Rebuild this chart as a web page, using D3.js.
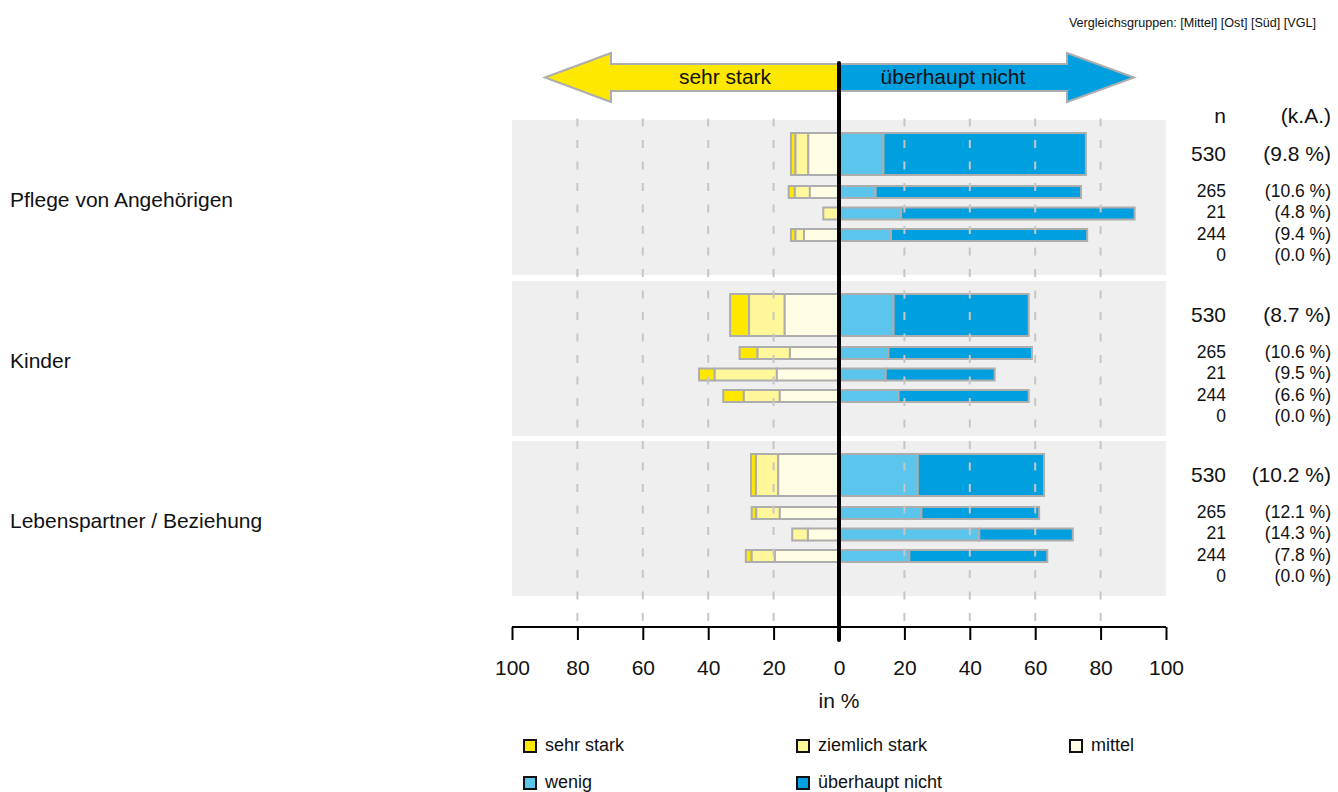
<!DOCTYPE html>
<html><head><meta charset="utf-8">
<script src="https://cdn.jsdelivr.net/npm/d3@7"></script>
<style>
body{margin:0;background:#fff;}
svg{display:block;font-family:"Liberation Sans",Arial,Helvetica,sans-serif;}
</style></head>
<body><svg id="c" width="1338" height="792"></svg>
<script>
const categories = ["Pflege von Angehörigen", "Kinder", "Lebenspartner / Beziehung"];
const groups = ["Gesamt", "Mittel", "Ost", "Süd", "VGL"];
const seriesNames = ["sehr stark", "ziemlich stark", "mittel", "wenig", "überhaupt nicht"];
const seriesColors = ["#FFE800", "#FFF799", "#FFFDE3", "#5BC5EC", "#009FE0"];
// values per category, per group (Gesamt, Mittel, Ost, Süd, VGL)
const sehrStark      = [[1.4, 1.9, 0, 1.4, 0], [5.8, 5.5, 4.8, 6.3, 0], [1.5, 1.4, 0, 1.8, 0]];
const ziemlichStark  = [[3.9, 4.6, 4.8, 2.6, 0], [10.9, 9.9, 19.0, 11.0, 0], [6.8, 7.2, 4.8, 7.1, 0]];
const mittel         = [[9.4, 8.9, 0, 10.7, 0], [16.6, 15.0, 19.0, 18.1, 0], [18.6, 18.1, 9.5, 19.6, 0]];
const wenig          = [[13.6, 11.2, 19.0, 15.9, 0], [16.7, 15.1, 14.3, 18.2, 0], [24.1, 25.2, 42.9, 21.5, 0]];
const ueberhauptNicht= [[61.9, 62.8, 71.4, 60.0, 0], [41.3, 43.9, 33.3, 39.8, 0], [38.6, 36.0, 28.6, 42.2, 0]];
const nValues  = [[530, 265, 21, 244, 0], [530, 265, 21, 244, 0], [530, 265, 21, 244, 0]];
const kaValues = [[9.8, 10.6, 4.8, 9.4, 0.0], [8.7, 10.6, 9.5, 6.6, 0.0], [10.2, 12.1, 14.3, 7.8, 0.0]];
const xTicks = [-100, -80, -60, -40, -20, 0, 20, 40, 60, 80, 100];
const gridTicks = [-80, -60, -40, -20, 20, 40, 60, 80];

const svg = d3.select("#c");
const x = d3.scaleLinear().domain([-100, 100]).range([512, 1166]);
const panelTops = [120, 281, 441];
const panelH = 155;
const rowY = d3.scaleOrdinal().domain(groups).range([34, 72, 93.5, 115, 136.5]);
const rowH = g => g === "Gesamt" ? 42 : 12;
const stroke = "#adadad";
const font = "'Liberation Sans',Arial,Helvetica,sans-serif";
const FS = 21;

// top right
svg.append("text").attr("x", 1316).attr("y", 24).attr("text-anchor", "end")
  .attr("dominant-baseline", "middle").attr("font-size", 12.6).attr("fill", "#111")
  .text("Vergleichsgruppen: [Mittel] [Ost] [Süd] [VGL]");

// arrow
const x0 = x(0);
svg.append("polygon").attr("points", [[545, 77.5], [611, 53], [611, 64], [x0, 64], [x0, 91], [611, 91], [611, 102]].join(" "))
  .attr("fill", "#FFE800").attr("stroke", stroke).attr("stroke-width", 2);
svg.append("polygon").attr("points", [[1134, 77.5], [1067, 53], [1067, 64], [x0, 64], [x0, 91], [1067, 91], [1067, 102]].join(" "))
  .attr("fill", "#009FE0").attr("stroke", stroke).attr("stroke-width", 2);
svg.append("text").attr("x", 725).attr("y", 78).attr("text-anchor", "middle").attr("dominant-baseline", "middle")
  .attr("font-size", FS).attr("fill", "#111").text("sehr stark");
svg.append("text").attr("x", 953).attr("y", 78).attr("text-anchor", "middle").attr("dominant-baseline", "middle")
  .attr("font-size", FS).attr("fill", "#111").text("überhaupt nicht");

// panels
svg.selectAll("rect.panel").data(panelTops).join("rect").attr("class", "panel")
  .attr("x", x(-100)).attr("width", x(100) - x(-100)).attr("y", d => d).attr("height", panelH).attr("fill", "#efefef");

// headers
svg.append("text").attr("x", 1226).attr("y", 117).attr("text-anchor", "end").attr("dominant-baseline", "middle").attr("font-size", FS).attr("fill", "#111").text("n");
svg.append("text").attr("x", 1331).attr("y", 117).attr("text-anchor", "end").attr("dominant-baseline", "middle").attr("font-size", FS).attr("fill", "#111").text("(k.A.)");

const seriesData = [sehrStark, ziemlichStark, mittel, wenig, ueberhauptNicht];

categories.forEach((cat, ci) => {
  const top = panelTops[ci];
  svg.append("text").attr("x", 10).attr("y", top + 81).attr("dominant-baseline", "middle")
    .attr("font-size", FS).attr("fill", "#111").text(cat);
  groups.forEach((g, gi) => {
    const cy = top + rowY(g);
    const h = rowH(g);
    const vals = seriesData.map(s => s[ci][gi]);
    const leftTotal = vals[0] + vals[1] + vals[2];
    const segs = [];
    let pos = -leftTotal;
    for (let k = 0; k < 3; k++) { segs.push({k, a: pos, b: pos + vals[k]}); pos += vals[k]; }
    pos = 0;
    for (let k = 3; k < 5; k++) { segs.push({k, a: pos, b: pos + vals[k]}); pos += vals[k]; }
    svg.append("g").selectAll("rect").data(segs.filter(s => s.b - s.a > 0)).join("rect")
      .attr("x", s => x(s.a)).attr("width", s => x(s.b) - x(s.a))
      .attr("y", cy - h / 2).attr("height", h)
      .attr("fill", s => seriesColors[s.k]).attr("stroke", stroke).attr("stroke-width", 2);
    const big = g === "Gesamt";
    const fs = big ? FS : 17.5;
    svg.append("text").attr("x", 1226).attr("y", cy + (big ? 1 : 0)).attr("text-anchor", "end").attr("dominant-baseline", "middle")
      .attr("font-size", fs).attr("fill", "#111").text(nValues[ci][gi]);
    svg.append("text").attr("x", 1331).attr("y", cy + (big ? 1 : 0)).attr("text-anchor", "end").attr("dominant-baseline", "middle")
      .attr("font-size", fs).attr("fill", "#111").text("(" + kaValues[ci][gi].toFixed(1) + " %)");
  });
});

// gridlines on top
svg.selectAll("line.grid").data(gridTicks).join("line").attr("class", "grid")
  .attr("x1", d => x(d)).attr("x2", d => x(d)).attr("y1", 118.5).attr("y2", 627)
  .attr("stroke", "#c6c6c6").attr("stroke-width", 2).attr("stroke-dasharray", "8,13.5");

// axis
const axis = d3.axisBottom(x).tickValues(xTicks).tickFormat(d => Math.abs(d)).tickSize(13).tickPadding(20);
const ag = svg.append("g").attr("transform", "translate(0,627)").call(axis);
ag.select(".domain").attr("stroke", "#000").attr("stroke-width", 2).attr("d", `M${x(-100)},0H${x(100)}`);
ag.selectAll(".tick line").attr("stroke", "#000").attr("stroke-width", 2);
ag.selectAll(".tick text").attr("font-size", FS).attr("font-family", font).attr("fill", "#111");
svg.append("text").attr("x", x0).attr("y", 702).attr("text-anchor", "middle").attr("dominant-baseline", "middle")
  .attr("font-size", FS).attr("fill", "#111").text("in %");

// center line
svg.append("line").attr("x1", x0).attr("x2", x0).attr("y1", 63).attr("y2", 640)
  .attr("stroke", "#000").attr("stroke-width", 4).attr("stroke-linecap", "round");

// legend
const legPos = [[524, 746], [797, 746], [1070, 746], [524, 783], [797, 783]];
const lg = svg.append("g").selectAll("g").data(seriesNames).join("g")
  .attr("transform", (d, i) => `translate(${legPos[i][0]},${legPos[i][1]})`);
lg.append("rect").attr("x", 0).attr("y", -6).attr("width", 12).attr("height", 12)
  .attr("fill", (d, i) => seriesColors[i]).attr("stroke", "#111").attr("stroke-width", 2);
lg.append("text").attr("x", 21).attr("y", 0).attr("dominant-baseline", "middle").attr("font-size", 18).attr("fill", "#111").text(d => d);
</script></body></html>
